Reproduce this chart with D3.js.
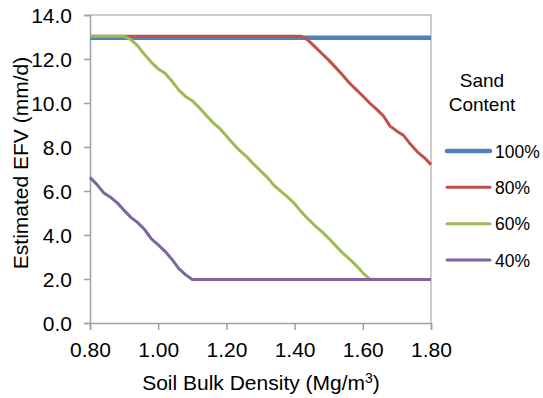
<!DOCTYPE html>
<html>
<head>
<meta charset="utf-8">
<script src="https://cdn.jsdelivr.net/npm/d3@7/dist/d3.min.js"></script>
<style>
  html, body { margin: 0; padding: 0; background: #fff; }
  svg { display: block; }
  text { font-family: "Liberation Sans", Arial, sans-serif; fill: #000; }
</style>
</head>
<body>
<svg id="chart" width="543" height="398"></svg>
<script>
// Soil bulk density (Mg/m3) sampled every 0.02
const bulkDensity = [0.80,0.82,0.84,0.86,0.88,0.90,0.92,0.94,0.96,0.98,
  1.00,1.02,1.04,1.06,1.08,1.10,1.12,1.14,1.16,1.18,
  1.20,1.22,1.24,1.26,1.28,1.30,1.32,1.34,1.36,1.38,
  1.40,1.42,1.44,1.46,1.48,1.50,1.52,1.54,1.56,1.58,
  1.60,1.62,1.64,1.66,1.68,1.70,1.72,1.74,1.76,1.78,1.80];

// Estimated EFV (mm/d) for each sand content
const efv100 = [12.97,12.97,12.97,12.97,12.97,12.97,12.97,12.97,12.97,12.97,
  12.97,12.97,12.97,12.97,12.97,12.97,12.97,12.97,12.97,12.97,
  12.97,12.97,12.97,12.97,12.97,12.97,12.97,12.97,12.97,12.97,
  12.97,12.97,12.97,12.97,12.97,12.97,12.97,12.97,12.97,12.97,
  12.97,12.97,12.97,12.97,12.97,12.97,12.97,12.97,12.97,12.97,12.97];

const efv80 = [13.03,13.03,13.03,13.03,13.03,13.03,13.03,13.03,13.03,13.03,
  13.03,13.03,13.03,13.03,13.03,13.03,13.03,13.03,13.03,13.03,
  13.03,13.03,13.03,13.03,13.03,13.03,13.03,13.03,13.03,13.03,
  13.03,13.03,12.85,12.55,12.25,11.95,11.62,11.28,10.92,10.62,
  10.32,10.00,9.72,9.42,8.95,8.72,8.52,8.12,7.78,7.52,7.20];

const efv60 = [13.03,13.03,13.03,13.03,13.03,13.03,12.88,12.60,12.20,11.85,
  11.55,11.35,11.00,10.60,10.30,10.10,9.80,9.45,9.12,8.85,
  8.50,8.15,7.82,7.55,7.22,6.92,6.62,6.25,5.98,5.72,
  5.42,5.05,4.72,4.42,4.15,3.85,3.52,3.20,2.92,2.62,
  2.28,2.00,1.98,1.98,1.98,1.98,1.98,1.98,1.98,1.98,1.98];

const efv40 = [6.62,6.30,5.92,5.72,5.46,5.12,4.80,4.56,4.25,3.82,
  3.55,3.26,2.90,2.48,2.20,1.98,1.98,1.98,1.98,1.98,
  1.98,1.98,1.98,1.98,1.98,1.98,1.98,1.98,1.98,1.98,
  1.98,1.98,1.98,1.98,1.98,1.98,1.98,1.98,1.98,1.98,
  1.98,1.98,1.98,1.98,1.98,1.98,1.98,1.98,1.98,1.98,1.98];

const seriesNames = ["100%", "80%", "60%", "40%"];
const seriesValues = [efv100, efv80, efv60, efv40];
const seriesColors = ["#4F81BD", "#C0504D", "#9BBB59", "#8064A2"];
const seriesWidths = [4.5, 3, 3, 3];

const xTicks = [0.8, 1.0, 1.2, 1.4, 1.6, 1.8];
const yTicks = [0, 2, 4, 6, 8, 10, 12, 14];

const plot = { left: 90, right: 431, top: 15, bottom: 323 };

const svg = d3.select("#chart");

const x = d3.scaleLinear().domain([0.8, 1.8]).range([plot.left, plot.right]);
const y = d3.scaleLinear().domain([0, 14]).range([plot.bottom, plot.top]);

// plot frame (top and right edges)
svg.append("path")
  .attr("d", `M${plot.left},${plot.top}H${plot.right}V${plot.bottom}`)
  .attr("fill", "none")
  .attr("stroke", "#bdbdbd")
  .attr("stroke-width", 1.5);

// y axis
const yAxis = svg.append("g")
  .attr("transform", `translate(${plot.left},0)`)
  .call(d3.axisLeft(y).tickValues(yTicks).tickSize(6).tickPadding(12)
    .tickFormat(d3.format(".1f")));

// x axis
const xAxis = svg.append("g")
  .attr("transform", `translate(0,${plot.bottom})`)
  .call(d3.axisBottom(x).tickValues(xTicks).tickSize(7).tickPadding(12)
    .tickFormat(d3.format(".2f")));

[yAxis, xAxis].forEach(g => {
  g.select(".domain").attr("stroke", "#a0a0a0").attr("stroke-width", 1.5);
  g.selectAll(".tick line").attr("stroke", "#a0a0a0").attr("stroke-width", 1.5);
  g.selectAll(".tick text")
    .attr("fill", "#000")
    .style("font-size", "21px")
    .style("font-family", "'Liberation Sans', Arial, sans-serif");
});
yAxis.selectAll(".tick text").attr("dy", "0.36em");

// series lines
const line = d3.line()
  .x((d, i) => x(bulkDensity[i]))
  .y(d => y(d));

seriesValues.forEach((vals, k) => {
  svg.append("path")
    .datum(vals)
    .attr("d", line)
    .attr("fill", "none")
    .attr("stroke", seriesColors[k])
    .attr("stroke-width", seriesWidths[k])
    .attr("stroke-linejoin", "round");
});

// axis titles
const xTitle = svg.append("text")
  .attr("x", 261)
  .attr("y", 390)
  .attr("text-anchor", "middle")
  .style("font-size", "21px");
xTitle.append("tspan").text("Soil Bulk Density (Mg/m");
xTitle.append("tspan").attr("dy", -7).style("font-size", "14px").text("3");
xTitle.append("tspan").attr("dy", 7).text(")");

svg.append("text")
  .attr("transform", "translate(28,163) rotate(-90)")
  .attr("text-anchor", "middle")
  .style("font-size", "21px")
  .text("Estimated EFV (mm/d)");

// legend
const legend = svg.append("g");
legend.append("text")
  .attr("x", 482).attr("y", 87)
  .attr("text-anchor", "middle")
  .style("font-size", "19px")
  .text("Sand");
legend.append("text")
  .attr("x", 482).attr("y", 111)
  .attr("text-anchor", "middle")
  .style("font-size", "19px")
  .text("Content");

const legendY = d3.scalePoint().domain(seriesNames).range([151, 260]);
seriesNames.forEach((name, k) => {
  const ly = legendY(name);
  legend.append("line")
    .attr("x1", 447).attr("x2", 490)
    .attr("y1", ly).attr("y2", ly)
    .attr("stroke", seriesColors[k])
    .attr("stroke-width", seriesWidths[k])
    .attr("stroke-linecap", "round");
  legend.append("text")
    .attr("x", 495).attr("y", ly + 6.5)
    .style("font-size", "17.5px")
    .text(name);
});
</script>
</body>
</html>
